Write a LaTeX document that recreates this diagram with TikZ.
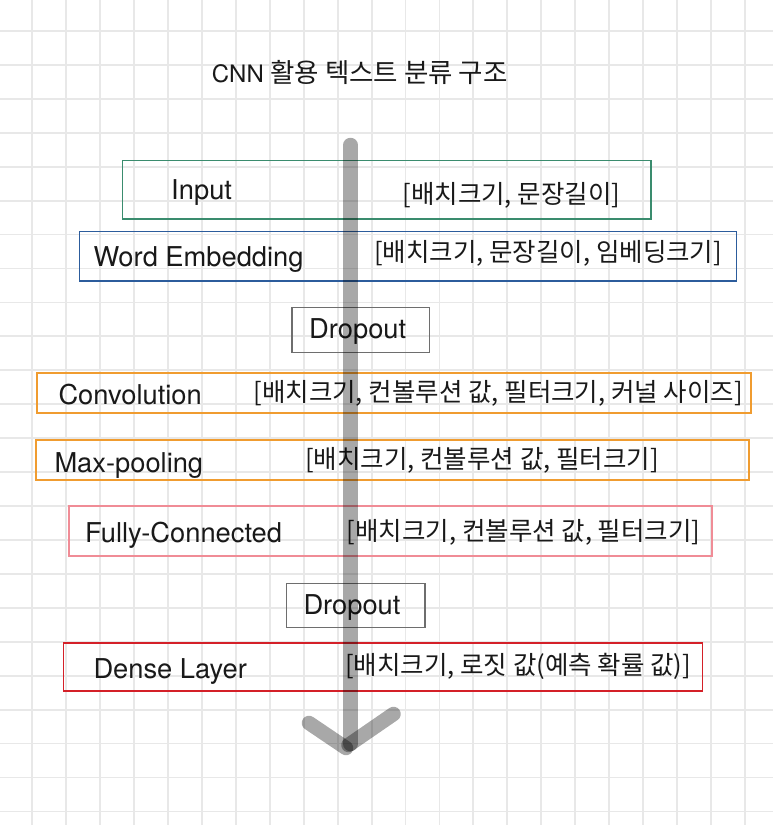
\documentclass[tikz,border=0pt]{standalone}
\usepackage{fontspec}
\setmainfont{TeX Gyre Heros}
\newfontfamily\kor{Noto Sans CJK KR}
\definecolor{gridgray}{HTML}{E8E8E8}
\definecolor{inputgreen}{HTML}{3A8C6E}
\definecolor{embedblue}{HTML}{2C5C9C}
\definecolor{dropgray}{HTML}{6E6E6E}
\definecolor{convorange}{HTML}{F09C30}
\definecolor{fcpink}{HTML}{F08C96}
\definecolor{densered}{HTML}{D42028}

\begin{document}
\begin{tikzpicture}
	[x=1pt, y=-1pt,
	gridline/.style={gridgray, line width=1.8pt},
	layer/.style={rectangle, draw, line width=1.5pt, inner sep=0pt},
	layername/.style={anchor=base west, inner sep=0pt, text=black!90, font=\fontsize{27.3}{30}\selectfont},
	layershape/.style={anchor=west, inner sep=0pt, text=black!90, font=\kor\fontsize{25.5}{30}\selectfont},
	flow/.style={black, opacity=0.34, line width=14.5pt, line cap=round}]
	\useasboundingbox (0,0) rectangle (773,825);
	\fill[white] (0,0) rectangle (773,825);
	\foreach \gx in {0,...,21}
		\draw[gridline] ({32.3+33.93*\gx},0) -- ({32.3+33.93*\gx},825);
	\foreach \gy in {0,...,23}
		\draw[gridline] (0,{31+33.93*\gy}) -- (773,{31+33.93*\gy});

	\node[anchor=base west, inner sep=0pt, text=black!90, font=\fontsize{24}{28}\selectfont] (title) at (211.7,82.3) {CNN {\kor\fontsize{26.5}{30}\selectfont 활용 텍스트 분류 구조}};

	\node[layer, draw=inputgreen, minimum width=528.5pt, minimum height=58.5pt] (input) at (386.75,189.75) {};
	\node[layername] (inputname) at (171,199) {Input};
	\node[layershape] (inputshape) at (402.3,195) {[배치크기, 문장길이]};

	\node[layer, draw=embedblue, minimum width=657pt, minimum height=49.5pt] (embed) at (408,256.25) {};
	\node[layername] (embedname) at (93.3,266) {Word Embedding};
	\node[layershape] (embedshape) at (374,253.7) {[배치크기, 문장길이, 임베딩크기]};

	\node[layer, draw=dropgray, minimum width=137.5pt, minimum height=45pt] (drop1) at (360.75,330) {};
	\node[layername] (drop1name) at (309,338.3) {Dropout};

	\node[layer, draw=convorange, minimum width=714pt, minimum height=40pt] (conv) at (394,393) {};
	\node[layername] (convname) at (58.3,404.3) {Convolution};
	\node[layershape] (convshape) at (253.3,393.3) {[배치크기, 컨볼루션 값, 필터크기, 커널 사이즈]};

	\node[layer, draw=convorange, minimum width=713pt, minimum height=40pt] (pool) at (392.5,460) {};
	\node[layername] (poolname) at (54.3,472.3) {Max-pooling};
	\node[layershape] (poolshape) at (305,460) {[배치크기, 컨볼루션 값, 필터크기]};

	\node[layer, draw=fcpink, line width=2pt, minimum width=643pt, minimum height=50pt] (fc) at (390.5,531) {};
	\node[layername] (fcname) at (85,542.7) {Fully-Connected};
	\node[layershape] (fcshape) at (346.7,532.5) {[배치크기, 컨볼루션 값, 필터크기]};

	\node[layer, draw=dropgray, minimum width=138.3pt, minimum height=44.4pt] (drop2) at (355.85,605.5) {};
	\node[layername] (drop2name) at (303.3,614.3) {Dropout};

	\node[layer, draw=densered, minimum width=639.4pt, minimum height=48pt] (dense) at (383,667) {};
	\node[layername] (densename) at (93.3,678.3) {Dense Layer};
	\node[layershape] (denseshape) at (345,666.7) {[배치크기, 로짓 값(예측 확률 값)]};

	\coordinate (flowtop) at (350.5,145);
	\coordinate (flowend) at (350.5,744);
	\coordinate (headleft) at (309,723);
	\coordinate (headleftend) at (346,748);
	\coordinate (headright) at (393.5,714);
	\coordinate (headrightend) at (348.5,745);
	\draw[flow] (flowtop) -- (flowend);
	\draw[flow] (headleft) -- (headleftend);
	\draw[flow] (headright) -- (headrightend);
\end{tikzpicture}
\end{document}
